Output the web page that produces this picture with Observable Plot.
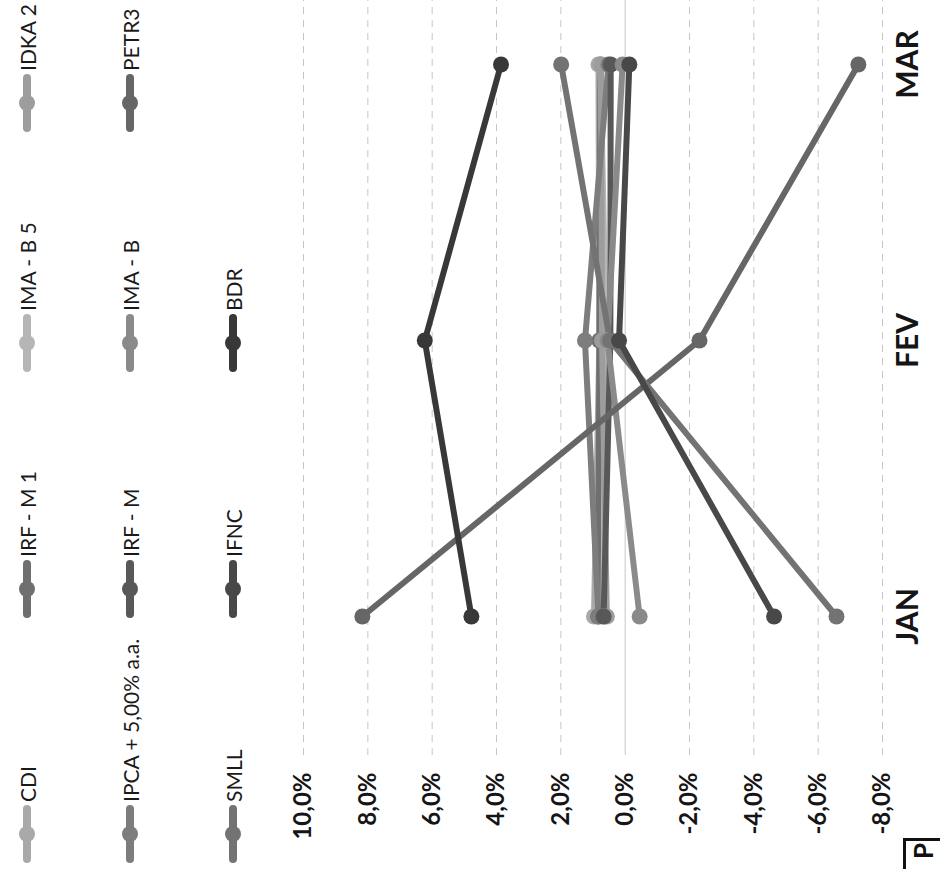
<!DOCTYPE html>
<html>
<head>
<meta charset="utf-8">
<script src="https://cdn.jsdelivr.net/npm/d3@7"></script>
<script src="https://cdn.jsdelivr.net/npm/@observablehq/plot@0.6"></script>
<style>
  html, body { margin: 0; padding: 0; background: #fff; }
  body { width: 940px; height: 869px; overflow: hidden; position: relative; font-family: Lato, "Open Sans", sans-serif; }
  #rot { position: absolute; left: 0; top: 869px; width: 960px; height: 940px; transform-origin: 0 0; transform: rotate(-90deg); }
  #legend { position: absolute; left: 0; top: 0; width: 960px; height: 260px; }
  .item { position: absolute; display: flex; align-items: center; height: 26px; font-size: 21px; color: #1a1a1a; white-space: nowrap; }
  .item svg { flex: none; margin-right: 3px; }
  #chart { position: absolute; left: 0; top: 260px; }
  #pbox { position: absolute; left: 0; top: 903px; width: 26px; height: 34px; border-top: 3px solid #111; border-right: 3px solid #111; font: bold 26px Lato, sans-serif; text-align: right; padding-right: 2px; line-height: 34px; color: #111; }
</style>
</head>
<body>
<div id="rot">
  <div id="legend"></div>
  <div id="chart"></div>
  <div id="pbox">P</div>
</div>
<script>
// ---- data ----
const months = ["JAN", "FEV", "MAR"];
const seriesNames = ["CDI", "IRF - M 1", "IMA - B 5", "IDKA 2", "IPCA + 5,00% a.a.", "IRF - M", "IMA - B", "PETR3", "SMLL", "IFNC", "BDR"];
const seriesColors = ["#a9a9a9", "#6f6f6f", "#b6b6b6", "#9d9d9d", "#7d7d7d", "#585858", "#8a8a8a", "#666666", "#737373", "#484848", "#383838"];
const cdi      = [0.97, 0.80, 0.83];
const irfm1    = [0.84, 0.80, 0.77];
const imab5    = [0.68, 0.59, 0.77];
const idka2    = [0.57, 0.72, 0.75];
const ipca5    = [0.83, 1.25, 0.52];
const irfm     = [0.67, 0.46, 0.45];
const imab     = [-0.45, 0.55, 0.08];
const petr3    = [8.17, -2.31, -7.25];
const smll     = [-6.57, 0.47, 1.99];
const ifnc     = [-4.63, 0.19, -0.13];
const bdr      = [4.78, 6.23, 3.86];
const seriesValues = [cdi, irfm1, imab5, idka2, ipca5, irfm, imab, petr3, smll, ifnc, bdr];
const yTicks = [-8, -6, -4, -2, 0, 2, 4, 6, 8, 10];

const rows = seriesNames.flatMap((s, i) => seriesValues[i].map((v, j) => ({serie: s, mes: months[j], valor: v})));
const fmt = d => d.toFixed(1).replace(".", ",") + "%";

// ---- legend (3 rows x 4 columns) ----
const colX = [6, 251, 497, 737];
const rowY = [27, 130, 233];
const legend = document.getElementById("legend");
seriesNames.forEach((s, i) => {
  const r = Math.floor(i / 4), c = i % 4;
  const div = document.createElement("div");
  div.className = "item";
  div.style.left = colX[c] + "px";
  div.style.top = (rowY[r] - 13) + "px";
  const col = seriesColors[i];
  div.innerHTML = `<svg width="58" height="20"><line x1="4" x2="54" y1="10" y2="10" stroke="${col}" stroke-width="8" stroke-linecap="round"/><circle cx="29" cy="10" r="8" fill="${col}"/></svg><span>${s}</span>`;
  legend.appendChild(div);
});

// ---- chart ----
const chart = Plot.plot({
  width: 960,
  height: 680,
  marginTop: 43,
  marginBottom: 58,
  marginLeft: 114,
  marginRight: 18,
  style: {fontFamily: "Lato, 'Open Sans', sans-serif", background: "transparent", overflow: "visible"},
  x: {type: "point", domain: months, padding: 0.5, label: null},
  y: {domain: [-8, 10], label: null},
  color: {domain: seriesNames, range: seriesColors},
  marks: [
    Plot.ruleY(yTicks.filter(d => d !== 0), {stroke: "#c6c6c6", strokeWidth: 1, strokeDasharray: "7,6"}),
    Plot.ruleY([0], {stroke: "#c6c6c6", strokeWidth: 1}),
    Plot.line(rows, {x: "mes", y: "valor", z: "serie", stroke: "serie", strokeWidth: 6, strokeLinecap: "round"}),
    Plot.dot(rows, {x: "mes", y: "valor", fill: "serie", r: 8}),
    Plot.axisY(yTicks, {tickFormat: fmt, tickSize: 0, tickPadding: 18, fontSize: 24, fontWeight: "bold", fill: "#151515", label: null}),
    Plot.axisX(months, {tickSize: 0, tickPadding: 14, fontSize: 30, fontWeight: "bold", fill: "#151515", label: null})
  ]
});
document.getElementById("chart").appendChild(chart);
</script>
</body>
</html>
